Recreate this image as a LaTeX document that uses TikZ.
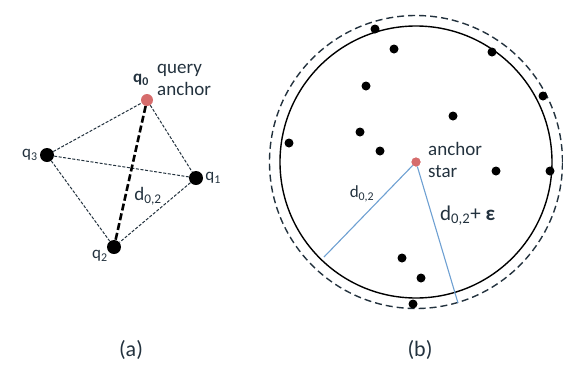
\documentclass[tikz,border=0pt]{standalone}
\usepackage{fontspec}
\setmainfont{Carlito}
\usepackage{tikz}
\usetikzlibrary{positioning,calc}
\definecolor{inkgray}{RGB}{35,50,62}
\definecolor{anchorred}{RGB}{214,108,108}
\definecolor{radblue}{RGB}{110,160,210}
\tikzset{
  qdot/.style={circle, fill=black, minimum size=14pt, inner sep=0pt},
  stardot/.style={circle, fill=black, minimum size=9pt, inner sep=0pt},
  anchordot/.style={circle, fill=anchorred, minimum size=12pt, inner sep=0pt},
  smallanchor/.style={circle, fill=anchorred, minimum size=9pt, inner sep=0pt},
  lbl/.style={text=inkgray, inner sep=1pt, font=\fontsize{17}{18}\selectfont},
  biglbl/.style={text=inkgray, inner sep=1pt, align=left, font=\fontsize{19}{22}\selectfont},
  edge/.style={draw=inkgray, line width=1pt, dash pattern=on 3pt off 1.6pt},
  diag/.style={draw=black, line width=2.6pt, dash pattern=on 7pt off 3pt},
  ring/.style={draw=black, line width=1.4pt},
  dashring/.style={draw=inkgray, line width=1.4pt, dash pattern=on 7pt off 4pt},
  radline/.style={draw=radblue, line width=1.1pt}
}

\begin{document}
\begin{tikzpicture}[x=1pt, y=-1pt]
\useasboundingbox (0,0) rectangle (563,365);
% (a) query
\node[anchordot] (q0) at (147,100) {};
\node[qdot] (q1) at (196,178) {};
\node[qdot] (q2) at (114,247) {};
\node[qdot] (q3) at (47,155) {};
\node[lbl, font=\fontsize{17}{18}\selectfont\bfseries] (q0l) at (141,80) {q\textsubscript{0}};
\node[biglbl, anchor=west] (qa) at (156,80) {query\\anchor};
\node[lbl, left=1pt of q3] (q3l) {q\textsubscript{3}};
\node[lbl, right=1pt of q1] (q1l) {q\textsubscript{1}};
\node[lbl, below left=-3pt and 0pt of q2] (q2l) {q\textsubscript{2}};
\draw[edge] (q3) -- (q0);
\draw[edge] (q0) -- (q1);
\draw[edge] (q3) -- (q1);
\draw[edge] (q3) -- (q2);
\draw[edge] (q1) -- (q2);
\draw[diag] (q0) -- (q2);
\node[lbl, font=\fontsize{19}{20}\selectfont] (d02a) at (148,196) {d\textsubscript{0,2}};
\node[biglbl, font=\fontsize{22}{22}\selectfont] (capa) at (131,350) {(a)};
% (b) star catalogue
\node[smallanchor] (star) at (416,162) {};
\draw[ring] (star) circle [radius=136pt];
\draw[dashring] (star) circle [radius=146.5pt];
\foreach \px/\py [count=\i] in {375/29, 394/49, 492/52, 543/96, 366/86, 453/116, 360/132,
  289/143, 380/151, 496/171, 550/171, 402/258, 421/278, 413/304}
  \node[stardot] (s\i) at (\px,\py) {};
\coordinate (rim) at (324,257);
\coordinate (rimeps) at (458,303);
\draw[radline] (star) -- (rim);
\draw[radline] (star) -- (rimeps);
\node[smallanchor] at (star) {};
\node[biglbl, anchor=west] (sa) at (427,160) {anchor\\star};
\node[lbl] (d02b) at (362,194) {d\textsubscript{0,2}};
\node[biglbl, font=\fontsize{21}{22}\selectfont, anchor=west] (d02e) at (439,216) {d\textsubscript{0,2}+ \textbf{ε}};
\node[biglbl, font=\fontsize{22}{22}\selectfont] (capb) at (420,350) {(b)};
\end{tikzpicture}
\end{document}
